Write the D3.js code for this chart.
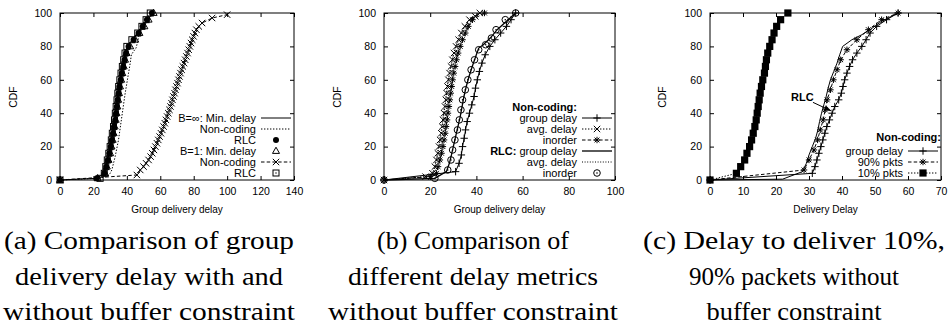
<!DOCTYPE html>
<html><head><meta charset="utf-8">
<script src="https://cdn.jsdelivr.net/npm/d3@7"></script>
<style>
html,body{margin:0;padding:0;background:#fff;}
svg{display:block;}
text{font-family:"Liberation Sans",Arial,Helvetica,sans-serif;fill:#000;}
.cap{font-family:"Liberation Serif","Times New Roman",serif;}
</style></head><body>
<svg id="fig" width="950" height="325"></svg>
<script>
// ---------------- data ----------------
const cdfTicks = [0, 20, 40, 60, 80, 100];
const xTicksA = [0, 20, 40, 60, 80, 100, 120, 140];
const xTicksB = [0, 20, 40, 60, 80, 100];
const xTicksC = [0, 10, 20, 30, 40, 50, 60, 70];

// (a) group delivery delay, with (B=1) and without (B=inf) buffer constraint
const aMinDelayInf = [[0,0],[22,1],[25,3],[27,7],[28,11],[29,15],[30,20],[31,26],[32,32],[33,39],[34,46],[34.6,52],[35.3,57],[36.2,62],[37.2,67],[38.2,72],[39.2,77],[41,81],[44,85],[47,89],[50,93],[53,97],[56,100]];
const aNonCodingInf = [[0,0],[22,1],[28,2],[30,4],[31,6],[32,10],[33,14],[34,19],[35,24],[36,31],[37,38],[38,45],[39,52],[40,58],[41,64],[42,70],[42.7,75],[44,77],[45.5,79],[46.5,83],[47.5,88],[50,92],[53,96],[56,100]];
const aRlcInf = [[0,0],[22,1],[26.5,4],[27.6,8],[28.6,12],[29.5,16],[30.3,20],[31,24],[31.7,28],[32.3,32],[33,36],[33.5,40],[34,44],[34.5,48],[35,52],[35.5,56],[36.3,60],[37,64],[37.8,68],[38.6,72],[39.5,76],[41,80],[44,84],[47,88],[49.5,92],[52,96],[55,100]];
const aMinDelayB1 = [[0,0],[22.5,1],[27,4],[28,8],[29,12],[30,16],[30.8,20],[31.5,24],[32.1,28],[32.7,32],[33.3,36],[33.8,40],[34.3,44],[34.8,48],[35.3,52],[35.9,56],[36.6,60],[37.3,64],[38.1,68],[38.9,72],[39.8,76],[42,80],[45,84],[47.5,88],[50.5,92],[53,96],[56,100]];
const aNonCodingB1 = [[0,0],[46,3],[48,6],[50,8],[51.5,10],[53,12],[54.2,14],[55.2,16],[56.2,18],[57.1,20],[58,22],[58.8,24],[59.6,26],[60.4,28],[61.2,30],[62,32],[62.7,34],[63.4,36],[64.1,38],[64.8,40],[65.5,42],[66.1,44],[66.7,46],[67.3,48],[67.9,50],[68.5,52],[69.1,54],[69.7,56],[70.3,58],[70.9,60],[71.5,62],[72.1,64],[72.8,66],[73.5,68],[74.2,70],[74.9,72],[75.6,74],[76.3,76],[77,78],[77.7,80],[78.4,82],[79.1,84],[79.9,86],[80.7,88],[81.6,90],[83,92],[85,94],[91,97],[100,99]];
const aRlcB1 = [[0,0],[24,1],[26.5,4],[27.4,8],[28.3,12],[29.2,16],[30,20],[30.7,24],[31.3,28],[32,32],[32.6,36],[33.1,40],[33.6,44],[34.1,48],[34.6,52],[35.1,56],[35.8,60],[36.5,64],[37.3,68],[38.1,72],[38.9,76],[40,80],[43,84],[46.5,88],[49,92],[51.5,96],[54,100]];

// (b) different delay metrics without buffer constraint
const bNcGroup = [[0,0],[31,5],[32.5,10],[33.5,15],[34,20],[34.7,25],[35.3,30],[36,35],[37,40],[38,45],[39,50],[39.6,55],[40.4,60],[41.3,65],[42.4,70],[43.8,75],[45.8,80],[48,84],[50.5,88],[53,92],[55,96],[57,100]];
const bNcAvg = [[0,0],[18,2],[21,4],[22,8],[22.7,12],[23.3,16],[23.8,20],[24.3,24],[24.8,28],[25.2,32],[25.6,36],[26,40],[26.4,44],[26.8,48],[27.1,52],[27.5,56],[27.9,60],[28.4,64],[29,68],[29.6,72],[30.3,76],[31.2,80],[32.3,84],[33.5,88],[35,92],[37,96],[39.5,98],[41.5,100]];
const bNcInorder = [[0,0],[20,2],[22.7,4],[23.4,8],[24.2,12],[24.9,16],[25.5,20],[26,24],[26.5,28],[26.9,32],[27.3,36],[27.7,40],[28.1,44],[28.5,48],[28.9,52],[29.3,56],[29.7,60],[30.2,64],[30.8,68],[31.4,72],[32.1,76],[33,80],[34,84],[35.2,88],[36.5,92],[38.3,96],[43.5,100]];
const bRlcGroup = [[0,0],[22,1],[27,5],[28.3,10],[29.2,15],[30,20],[31,26],[32,32],[33,38],[33.8,44],[34.6,50],[35.6,56],[36.8,62],[38.2,68],[39.7,74],[41,79],[43,81],[46,85],[49,90],[53,95],[57,100]];
const bRlcAvg = [[0,0],[19,2],[21.5,5],[22.3,10],[23,15],[23.6,20],[24.2,25],[24.8,30],[25.3,35],[25.8,40],[26.3,45],[26.8,50],[27.3,55],[27.8,60],[28.5,65],[29.2,70],[30,75],[31,80],[32.3,85],[34,90],[36.5,95],[41,100]];
const bRlcInorder = [[0,0],[22,1],[27.6,6],[29,12],[29.7,18],[30.7,24],[31.8,30],[32.6,36],[33.3,42],[34,48],[35.2,54],[36.3,60],[37.7,66],[39.2,72],[41,78],[44,81],[46.5,85],[48.5,90],[52.5,96],[57,100]];

// (c) delay to deliver 10% / 90% of packets
const cNcGroup = [[0,0],[31,4],[31.8,8],[32.4,12],[33,16],[33.6,20],[34.2,24],[34.8,28],[35.4,32],[36.2,36],[37,40],[37.8,44],[39,48],[39.8,52],[40.3,56],[40.8,60],[41.5,64],[42.3,68],[43.2,72],[44.5,76],[46,80],[47.3,84],[48.5,88],[50.5,92],[53.5,96],[57,100]];
const cNc90 = [[0,0],[28.5,6],[30,12],[31.5,18],[32.6,24],[33.4,30],[34.3,36],[34.9,42],[35.5,48],[36.5,54],[37.4,60],[38.5,66],[39.6,72],[41.5,78],[44.5,84],[48,90],[52,96],[57,100]];
const cNc10 = [[0,0],[8,4],[9.3,8],[10.5,12],[11.2,16],[12,20],[12.6,24],[13.1,28],[13.6,32],[14,36],[14.3,40],[14.6,44],[14.9,48],[15.2,52],[15.6,56],[16,60],[16.5,64],[16.8,68],[17.1,72],[17.5,76],[18.1,80],[18.8,84],[19.4,88],[20.2,92],[21.4,96],[23.6,100]];
const cRlc = [[0,0],[22,0.5],[28,5],[29.2,10],[30,15],[31,20],[32,25],[32.7,30],[33.2,35],[33.8,40],[34.5,45],[35.2,50],[35.8,55],[36.5,60],[37.5,65],[38.5,70],[39.3,75],[40.2,80],[43,84],[46,87],[48.5,90],[52,95],[57,100]];
const cRlcNote = {text: "RLC", at: [28, 50], from: [31.2, 46.5], to: [36.6, 41.5]};

const captionA = ["(a) Comparison of group", "delivery delay with and", "without buffer constraint"];
const captionB = ["(b) Comparison of", "different delay metrics", "without buffer constraint"];
const captionC = ["(c) Delay to deliver 10%,", "90% packets without", "buffer constraint"];

// ---------------- drawing ----------------
const svg = d3.select("#fig");
const TOP = 13, BOTTOM = 180;
const DOT = "1.4,1.6", DASH = "3.5,2.2";

svg.append("defs").append("marker")
  .attr("id", "arrowHead").attr("viewBox", "0 0 10 10")
  .attr("refX", 9).attr("refY", 5)
  .attr("markerWidth", 7).attr("markerHeight", 7)
  .attr("orient", "auto-start-reverse")
  .append("path").attr("d", "M0,1.5L10,5L0,8.5Z").attr("fill", "#000");

function drawMarker(g, type, x, y) {
  const s = 3.2;
  if (type === "plus") {
    g.append("path").attr("d", `M${x-s-0.5},${y}H${x+s+0.5}M${x},${y-s-0.5}V${y+s+0.5}`).attr("stroke", "#000").attr("stroke-width", 1);
  } else if (type === "cross") {
    g.append("path").attr("d", `M${x-s},${y-s}L${x+s},${y+s}M${x-s},${y+s}L${x+s},${y-s}`).attr("stroke", "#000").attr("stroke-width", 1);
  } else if (type === "star") {
    g.append("path").attr("d", `M${x-s},${y}H${x+s}M${x},${y-s}V${y+s}M${x-2.4},${y-2.4}L${x+2.4},${y+2.4}M${x-2.4},${y+2.4}L${x+2.4},${y-2.4}`).attr("stroke", "#000").attr("stroke-width", 1);
  } else if (type === "dot") {
    g.append("circle").attr("cx", x).attr("cy", y).attr("r", 3).attr("fill", "#000");
  } else if (type === "triangle") {
    g.append("path").attr("d", `M${x},${y-3.8}L${x+3.5},${y+2.4}L${x-3.5},${y+2.4}Z`).attr("fill", "none").attr("stroke", "#000").attr("stroke-width", 1);
  } else if (type === "square") {
    g.append("rect").attr("x", x-3).attr("y", y-3).attr("width", 6).attr("height", 6).attr("fill", "none").attr("stroke", "#000").attr("stroke-width", 1);
    g.append("rect").attr("x", x-0.6).attr("y", y-0.6).attr("width", 1.2).attr("height", 1.2).attr("fill", "#000");
  } else if (type === "squareFill") {
    g.append("rect").attr("x", x-3.6).attr("y", y-3.6).attr("width", 7.2).attr("height", 7.2).attr("fill", "#000");
  } else if (type === "ring") {
    g.append("circle").attr("cx", x).attr("cy", y).attr("r", 3.3).attr("fill", "none").attr("stroke", "#000").attr("stroke-width", 1);
    g.append("circle").attr("cx", x).attr("cy", y).attr("r", 0.8).attr("fill", "#000");
  }
}

function drawPanel(p) {
  const g = svg.append("g");
  const x = d3.scaleLinear().domain([0, p.xMax]).range([p.left, p.right]);
  const y = d3.scaleLinear().domain([0, 100]).range([BOTTOM, TOP]);

  // axes: gnuplot-style inward ticks, mirrored on top/right
  const bottomAxis = d3.axisBottom(x).tickValues(p.xTicks).tickSize(-4).tickPadding(8).tickFormat(d3.format("d"));
  const topAxis = d3.axisTop(x).tickValues(p.xTicks).tickSize(-4).tickFormat("");
  const leftAxis = d3.axisLeft(y).tickValues(cdfTicks).tickSize(-4).tickPadding(8).tickFormat(d3.format("d"));
  const rightAxis = d3.axisRight(y).tickValues(cdfTicks).tickSize(-4).tickFormat("");
  const axes = [
    [bottomAxis, `translate(0,${BOTTOM})`],
    [topAxis, `translate(0,${TOP})`],
    [leftAxis, `translate(${p.left},0)`],
    [rightAxis, `translate(${p.right},0)`]
  ];
  axes.forEach(([ax, tr]) => {
    const a = g.append("g").attr("transform", tr).call(ax);
    a.select(".domain").remove();
    a.selectAll("line").attr("stroke", "#000").attr("stroke-width", 1);
    a.selectAll("text").attr("font-size", 10.5).attr("font-family", '"Liberation Sans",Arial,sans-serif').attr("fill", "#000");
  });
  g.append("rect").attr("x", p.left).attr("y", TOP).attr("width", p.right - p.left).attr("height", BOTTOM - TOP)
    .attr("fill", "none").attr("stroke", "#000").attr("stroke-width", 1);

  // axis titles
  g.append("text").attr("x", (p.left + p.right) / 2).attr("y", 213).attr("text-anchor", "middle")
    .attr("font-size", 10).text(p.xTitle);
  g.append("text").attr("transform", `translate(${p.ylabX},97) rotate(-90)`).attr("text-anchor", "middle")
    .attr("font-size", 10.5).text("CDF");

  const line = d3.line().x(d => x(d[0])).y(d => y(d[1]));
  p.series.forEach(s => {
    if (s.dash !== undefined) {
      g.append("path").datum(s.data).attr("d", line).attr("fill", "none")
        .attr("stroke", "#000").attr("stroke-width", s.width || 1)
        .attr("stroke-dasharray", s.dash || null);
    }
    if (s.marker) {
      const mg = g.append("g");
      s.data.forEach(d => drawMarker(mg, s.marker, x(d[0]), y(d[1])));
    }
  });

  // key, right-bottom
  const kx2 = p.right - 3, kx1 = p.right - 33, tx = p.right - 38;
  p.legend.forEach(e => {
    const t = g.append("text").attr("x", tx).attr("y", e.y + 3.8).attr("text-anchor", "end").attr("font-size", 11);
    if (e.bold) t.append("tspan").attr("font-weight", "bold").text(e.bold);
    if (e.label) t.append("tspan").text(e.label);
    if (e.dash !== undefined) {
      g.append("line").attr("x1", kx1).attr("x2", kx2).attr("y1", e.y).attr("y2", e.y)
        .attr("stroke", "#000").attr("stroke-width", e.width || 1).attr("stroke-dasharray", e.dash || null);
    }
    if (e.marker) drawMarker(g, e.marker, (kx1 + kx2) / 2, e.y);
  });
  return {g, x, y};
}

// (a)
drawPanel({
  left: 60, right: 294, xMax: 140, xTicks: xTicksA, xTitle: "Group delivery delay", ylabX: 17,
  series: [
    {data: aMinDelayInf, dash: ""},
    {data: aNonCodingInf, dash: DOT},
    {data: aRlcInf, marker: "dot"},
    {data: aMinDelayB1, marker: "triangle"},
    {data: aNonCodingB1, dash: DASH, marker: "cross"},
    {data: aRlcB1, marker: "square"}
  ],
  legend: [
    {y: 118, label: "B=\u221E: Min. delay", dash: ""},
    {y: 129, label: "Non-coding", dash: DOT},
    {y: 140, label: "RLC", marker: "dot"},
    {y: 151, label: "B=1: Min. delay", marker: "triangle"},
    {y: 162, label: "Non-coding", dash: DASH, marker: "cross"},
    {y: 173, label: "RLC", marker: "square"}
  ]
});

// (b)
drawPanel({
  left: 384, right: 615, xMax: 100, xTicks: xTicksB, xTitle: "Group delivery delay", ylabX: 341,
  series: [
    {data: bRlcAvg, dash: "1,1.6"},
    {data: bRlcGroup, dash: "", width: 1.3},
    {data: bNcGroup, dash: "", marker: "plus"},
    {data: bNcAvg, dash: DOT, marker: "cross"},
    {data: bNcInorder, dash: DASH, marker: "star"},
    {data: bRlcInorder, marker: "ring"}
  ],
  legend: [
    {y: 107, bold: "Non-coding:"},
    {y: 118, label: "group delay", dash: "", marker: "plus"},
    {y: 129, label: "avg. delay", dash: DOT, marker: "cross"},
    {y: 140, label: "inorder", dash: DASH, marker: "star"},
    {y: 151, bold: "RLC: ", label: "group delay", dash: "", width: 1.3},
    {y: 162, label: "avg. delay", dash: "1,1.6"},
    {y: 173, label: "inorder", marker: "ring"}
  ]
});

// (c)
const pc = drawPanel({
  left: 710, right: 941, xMax: 70, xTicks: xTicksC, xTitle: "Delivery Delay", ylabX: 666,
  series: [
    {data: cRlc, dash: ""},
    {data: cNcGroup, dash: "", marker: "plus"},
    {data: cNc90, dash: DASH, marker: "star"},
    {data: cNc10, dash: DOT, marker: "squareFill"}
  ],
  legend: [
    {y: 151, label: "group delay", dash: "", marker: "plus"},
    {y: 162, label: "90% pkts", dash: DASH, marker: "star"},
    {y: 173, label: "10% pkts", dash: DOT, marker: "squareFill"}
  ]
});
pc.g.append("text").attr("x", 941).attr("y", 140.5).attr("text-anchor", "end")
  .attr("font-size", 11).attr("font-weight", "bold").text("Non-coding:");
pc.g.append("text").attr("x", pc.x(cRlcNote.at[0])).attr("y", pc.y(cRlcNote.at[1]) + 4)
  .attr("text-anchor", "middle").attr("font-size", 11).attr("font-weight", "bold").text(cRlcNote.text);
pc.g.append("line")
  .attr("x1", pc.x(cRlcNote.from[0])).attr("y1", pc.y(cRlcNote.from[1]))
  .attr("x2", pc.x(cRlcNote.to[0])).attr("y2", pc.y(cRlcNote.to[1]))
  .attr("stroke", "#000").attr("stroke-width", 1).attr("marker-end", "url(#arrowHead)");

// sub-figure captions
const capStyle = {size: 26, lead: 35.5, base: 249};
const capWidths = {a: [290, 268, 292], b: [192, 250, 290], c: [302, 210, 175]};
[[captionA, 149, capWidths.a], [captionB, 473, capWidths.b], [captionC, 794, capWidths.c]].forEach(([lines, cx, widths]) => {
  lines.forEach((s, i) => {
    svg.append("text").attr("class", "cap")
      .attr("x", cx).attr("y", capStyle.base + i * capStyle.lead)
      .attr("text-anchor", "middle").attr("font-size", capStyle.size)
      .attr("textLength", widths[i]).attr("lengthAdjust", "spacingAndGlyphs")
      .style("font-family", '"Liberation Serif","Times New Roman",serif')
      .text(s);
  });
});
</script>
</body></html>
